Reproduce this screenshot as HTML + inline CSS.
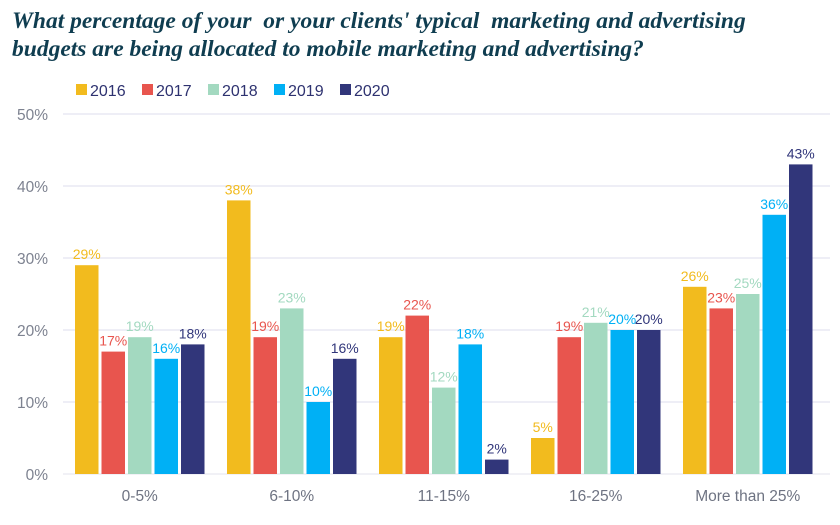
<!DOCTYPE html>
<html><head><meta charset="utf-8"><style>
body{margin:0;background:#fff;width:840px;height:525px;overflow:hidden}
svg{display:block}
.t{white-space:pre}
</style></head><body>
<svg id="c" width="840" height="525">
<text class="t" xml:space="preserve" x="12" y="28" font-family="Liberation Serif, serif" font-style="italic" font-weight="bold" font-size="23.5" fill="#0f3d50">What percentage of your  or your clients' typical  marketing and advertising</text>
<text class="t" x="12" y="56" font-family="Liberation Serif, serif" font-style="italic" font-weight="bold" font-size="23.5" fill="#0f3d50">budgets are being allocated to mobile marketing and advertising?</text>
<g id="legend"></g><g id="grid"></g><g id="bars"></g>
</svg>
<script>
const categories=["0-5%","6-10%","11-15%","16-25%","More than 25%"];
const seriesNames=["2016","2017","2018","2019","2020"];
const s2016=[29,38,19,5,26];
const s2017=[17,19,22,19,23];
const s2018=[19,23,12,21,25];
const s2019=[16,10,18,20,36];
const s2020=[18,16,2,20,43];
const yTicks=[0,10,20,30,40,50];
const colors=["#f2bb1e","#e8554e","#a3d9c0","#00b0f5","#31367a"];
const series=[s2016,s2017,s2018,s2019,s2020];
const NS="http://www.w3.org/2000/svg";
const y0=474,yTop=114,yMax=50;
const Y=v=>y0-(v/yMax)*(y0-yTop);
const gStart=75,gStep=152,bStep=26.5,bW=23.5;
const X=(ci,si)=>gStart+ci*gStep+si*bStep;
function mk(tag,attrs,parent){const e=document.createElementNS(NS,tag);for(const k in attrs)e.setAttribute(k,attrs[k]);parent.appendChild(e);return e;}
const grid=document.getElementById('grid'),bars=document.getElementById('bars'),leg=document.getElementById('legend');
yTicks.forEach(t=>{
 const l=mk('line',{x1:63,x2:830,y1:Y(t),y2:Y(t),stroke:t===0?'#e3e3ec':'#dcdcec','stroke-width':1},grid);
 
 
 const tx=mk('text',{x:48,y:Y(t)+6,'text-anchor':'end','font-family':'Liberation Sans, sans-serif','font-size':15.5,fill:'#7d8290'},grid);
 tx.textContent=t+'%';
 
 
});
categories.forEach((c,ci)=>{
 const tx=mk('text',{x:X(ci,0)+(4*bStep+bW)/2,y:501,'text-anchor':'middle','font-family':'Liberation Sans, sans-serif','font-size':15.5,fill:'#6e7382'},grid);
 tx.textContent=c;
 
 
 series.forEach((s,si)=>{
  const v=s[ci];
  const r=mk('rect',{x:X(ci,si),y:Y(v),width:bW,height:y0-Y(v),fill:colors[si]},bars);
  
  
  const lt=mk('text',{x:X(ci,si)+bW/2,y:Y(v)-6,'text-anchor':'middle','font-family':'Liberation Sans, sans-serif','font-size':14,fill:colors[si]},bars);
  lt.textContent=v+'%';
  
  
 });
});
seriesNames.forEach((n,i)=>{
 const lx=76+i*66;
 const r=mk('rect',{x:lx,y:84,width:11,height:11,fill:colors[i]},leg);
 
 
 const t=mk('text',{x:lx+14,y:96,'font-family':'Liberation Sans, sans-serif','font-size':16,fill:'#2e3270'},leg);
 t.textContent=n;
 
 
});
</script>
</body></html>
